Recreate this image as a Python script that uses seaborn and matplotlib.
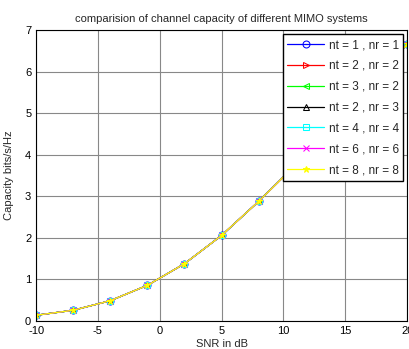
import matplotlib
matplotlib.use("Agg")
import matplotlib.pyplot as plt
import seaborn as sns
import pandas as pd

snr_db = [-10, -7, -4, -1, 2, 5, 8, 11, 14, 17, 20]
capacity = [0.14, 0.26, 0.49, 0.86, 1.38, 2.06, 2.88, 3.76, 4.71, 5.67, 6.66]
labels = ["nt = 1 , nr = 1", "nt = 2 , nr = 2", "nt = 3 , nr = 2", "nt = 2 , nr = 3",
          "nt = 4 , nr = 4", "nt = 6 , nr = 6", "nt = 8 , nr = 8"]
colors = ["#0000ff", "#ff0000", "#00ff00", "#000000", "#00ffff", "#ff00ff", "#ffff00"]
markers = ["o", ">", "<", "^", "s", "x", "*"]

sns.set_style("white")
plt.rcParams["font.family"] = ["Liberation Sans", "DejaVu Sans"]
plt.rcParams["axes.unicode_minus"] = False

fig = plt.figure(figsize=(4.1, 3.49), dpi=100)
ax = fig.add_axes([0.088, 0.08, 0.905, 0.834])

for lab, col, mk in zip(labels, colors, markers):
    df = pd.DataFrame({"snr": snr_db, "cap": capacity})
    sns.lineplot(data=df, x="snr", y="cap", ax=ax, color=col, marker=mk,
                 markersize=5, markerfacecolor="none" if mk not in ("x", "*") else col,
                 markeredgecolor=col, linewidth=0.9, label=lab)

ax.set_xlim(-10, 20)
ax.set_ylim(0, 7)
ax.set_xticks(range(-10, 21, 5))
ax.set_yticks(range(0, 8))
ax.grid(True, color="#888888", linewidth=0.8)
ax.tick_params(direction="in", labelsize=8, length=3, width=0.6, colors="black")
for s in ax.spines.values():
    s.set_color("black")
    s.set_linewidth(0.8)
ax.set_xlabel("SNR in dB", fontsize=8, labelpad=2)
ax.set_ylabel("Capacity bits/s/Hz", fontsize=8, labelpad=8)
ax.set_title("comparision of channel capacity of different MIMO systems", fontsize=8, pad=6)

leg = ax.legend(loc="upper right", fontsize=8.5, frameon=True, fancybox=False,
                edgecolor="black", framealpha=1, handlelength=3.1,
                bbox_to_anchor=(0.99, 0.985), borderaxespad=0.0,
                labelspacing=0.75, borderpad=0.4, handletextpad=0.4)
leg.get_frame().set_linewidth(1.0)

fig.savefig("out.png", dpi=100)
